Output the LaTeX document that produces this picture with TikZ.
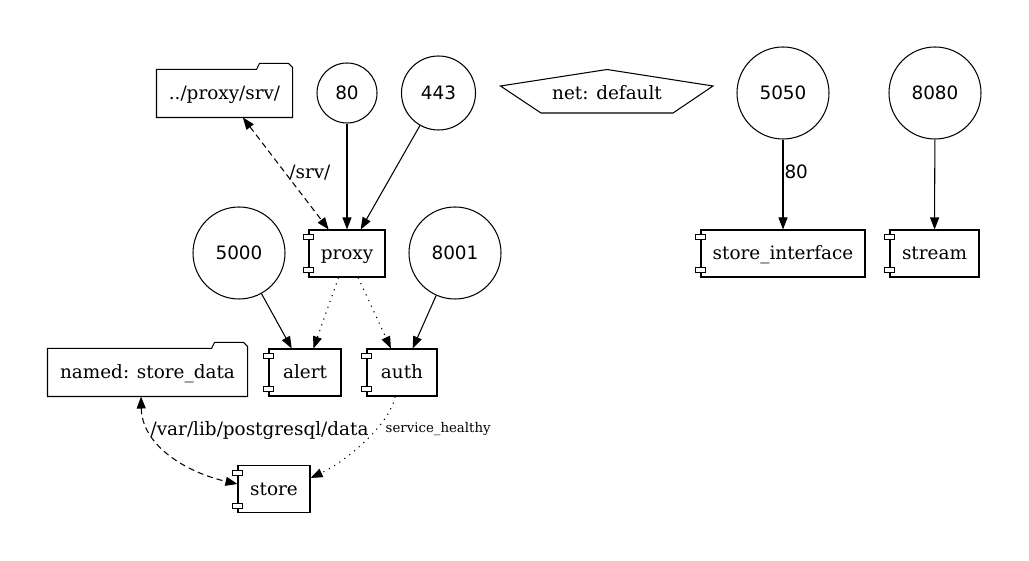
\documentclass[tikz,border=0pt]{standalone}
\usepackage{fontspec}
\setmainfont{DejaVu Serif}
\newfontfamily\numfont{DejaVu Sans}
\usetikzlibrary{arrows.meta}
\newcommand\comptabs[1]{%
  \draw[tab] ([xshift=-5pt,yshift=-5pt]#1.north west) rectangle ([xshift=5pt,yshift=-10pt]#1.north west);
  \draw[tab] ([xshift=-5pt,yshift=5pt]#1.south west) rectangle ([xshift=5pt,yshift=10pt]#1.south west);}
\newcommand\folderline[1]{%
  \draw (#1.south west) -- (#1.north west) -- ([xshift=-36pt]#1.north east) -- ++(3pt,6pt) -- ++(29pt,0pt) -- ++(4pt,-4pt) -- (#1.south east) -- cycle;}
\begin{document}
\begin{tikzpicture}[x=1pt,y=-1pt, line width=1.05pt,
  every node/.style={font=\fontsize{18.4}{22}\selectfont, text height=13pt, text depth=0pt},
  box/.style={draw, rectangle, minimum height=47pt, inner sep=0pt},
  folder/.style={rectangle, minimum height=47pt, inner sep=0pt},
  port/.style={draw, circle, inner sep=0pt, font=\numfont\fontsize{18.4}{22}\selectfont},
  tab/.style={draw, fill=white, line width=0.9pt},
  arr/.style={-{Triangle[length=12pt,width=9pt]}},
  dualarr/.style={{Triangle[length=12pt,width=9pt]}-{Triangle[length=12pt,width=9pt]}},
  dashedline/.style={dash pattern=on 6pt off 4pt},
  dottedline/.style={dash pattern=on 1.2pt off 5pt},
  elabel/.style={inner sep=1pt},
  small/.style={font=\fontsize{13.3}{16}\selectfont, text height=9pt, text depth=0pt}
]
\useasboundingbox (0,0) rectangle (1029,561);

% nodes
\node[folder, minimum width=135pt] (srv) at (224.5,93.5) {../proxy/srv/};
\node[port, minimum size=60pt] (p80) at (347,93) {80};
\node[port, minimum size=74pt] (p443) at (438.5,93) {443};
\draw (607,69.5) -- (713,86) -- (673,113) -- (541,113) -- (500.5,86) -- cycle;
\node (net) at (607,93) {net: default};
\node[port, minimum size=92pt] (p5050) at (783,93) {5050};
\node[port, minimum size=92pt] (p8080) at (935,93) {8080};
\node[port, minimum size=92pt] (p5000) at (239,253) {5000};
\node[box, minimum width=76pt] (proxy) at (347,253.5) {proxy};
\node[port, minimum size=92pt] (p8001) at (455,253) {8001};
\node[box, minimum width=164pt] (storeif) at (783,253.5) {store\_interface};
\node[box, minimum width=89pt] (stream) at (934.5,253.5) {stream};
\node[folder, minimum width=199pt] (named) at (147.5,372.5) {named: store\_data};
\node[box, minimum width=72pt] (alert) at (305,372.5) {alert};
\node[box, minimum width=70pt] (auth) at (402,372.5) {auth};
\node[box, minimum width=72pt] (store) at (274,489) {store};

\folderline{srv}
\folderline{named}
\comptabs{proxy}
\comptabs{storeif}
\comptabs{stream}
\comptabs{alert}
\comptabs{auth}
\comptabs{store}

% edges
\draw[dualarr, dashedline] (srv) -- node[pos=0.49, anchor=west, elabel, xshift=3pt]{/srv/} (proxy);
\draw[arr] (p80) -- (proxy);
\draw[arr] (p443) -- (proxy);
\draw[arr] (p5050) -- node[pos=0.36, anchor=west, elabel]{\numfont 80} (storeif);
\draw[arr] (p8080) -- (stream);
\draw[arr] (p5000) -- (alert);
\draw[arr, dottedline] (proxy) -- (alert);
\draw[arr, dottedline] (proxy) -- (auth);
\draw[arr] (p8001) -- (auth);
\draw[dualarr, dashedline] ([xshift=-6.5pt]named.south) .. controls (142,445) and (185,472) .. ([yshift=5pt]store.west) node[pos=0.25, anchor=west, elabel]{/var/lib/postgresql/data};
\draw[arr, dottedline] ([xshift=-7pt]auth.south) .. controls (390,425) and (345,462) .. ([yshift=11pt]store.east) node[pos=0.35, anchor=west, elabel, small, xshift=7pt]{service\_healthy};
\end{tikzpicture}
\end{document}
